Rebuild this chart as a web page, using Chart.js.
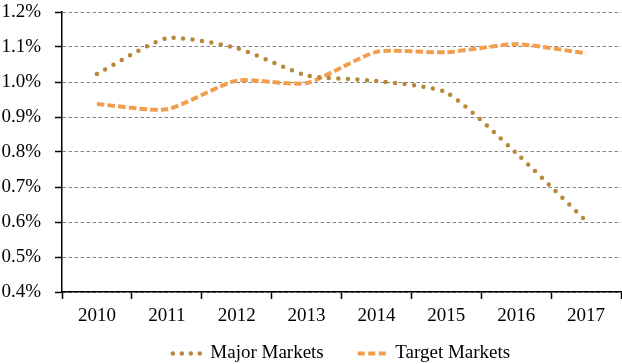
<!DOCTYPE html>
<html lang="en">
<head>
  <meta charset="UTF-8">
  <title>Major vs Target Markets</title>
  <script src="https://cdn.jsdelivr.net/npm/chart.js"></script>
  <style>
    body {
      margin: 0;
      padding: 0;
      background-color: #fff;
    }
    .chart-box {
      width: 622px;
      height: 364px;
    }
  </style>
</head>
<body>
  <div class="chart-box">
    <canvas id="marketsChart"></canvas>
  </div>

  <script>
    // Data (values in %)
    const years = ['2010', '2011', '2012', '2013', '2014', '2015', '2016', '2017'];
    const majorMarkets = [1.023, 1.125, 1.097, 1.019, 1.003, 0.970, 0.797, 0.603];
    const targetMarkets = [0.937, 0.922, 1.004, 0.997, 1.086, 1.085, 1.108, 1.082];

    const serif = "'Liberation Serif', 'Times New Roman', serif";

    // x axis is squeezed so the legend sits close; let its labels draw past its box
    const unclipXLabels = {
      id: 'unclipXLabels',
      afterLayout(chart) {
        chart.scales.x.bottom = chart.height;
      }
    };

    new Chart(document.getElementById('marketsChart').getContext('2d'), {
      type: 'line',
      data: {
        labels: years,
        datasets: [
          {
            label: 'Major Markets',
            data: majorMarkets,
            borderColor: '#b8883a',
            backgroundColor: '#b8883a',
            borderWidth: 4.5,
            borderDash: [0, 9.5],
            borderCapStyle: 'round',
            tension: 0.2,
            pointRadius: 0,
            fill: false
          },
          {
            label: 'Target Markets',
            data: targetMarkets,
            borderColor: '#f29e4c',
            backgroundColor: '#f29e4c',
            borderWidth: 4,
            borderDash: [7.5, 3.2],
            borderCapStyle: 'butt',
            tension: 0.2,
            pointRadius: 0,
            fill: false
          }
        ]
      },
      options: {
        responsive: true,
        maintainAspectRatio: false,
        animation: false,
        layout: { padding: { top: 12, right: 1, left: 0, bottom: 0 } },
        plugins: {
          legend: {
            position: 'bottom',
            fullSize: false,
            maxHeight: 54,
            labels: {
              usePointStyle: true,
              pointStyle: 'line',
              pointStyleWidth: 28,
              padding: 34,
              color: '#000',
              font: { family: serif, size: 19 },
              generateLabels: (chart) => chart.data.datasets.map((ds, i) => ({
                text: ds.label,
                datasetIndex: i,
                fillStyle: ds.borderColor,
                strokeStyle: ds.borderColor,
                lineWidth: ds.borderWidth,
                lineDash: i === 0 ? [0, 9] : [7, 3.5],
                lineCap: ds.borderCapStyle,
                pointStyle: 'line',
                fontColor: '#000',
                hidden: false
              }))
            }
          },
          tooltip: { enabled: false }
        },
        scales: {
          x: {
            offset: true,
            afterFit: (scale) => { scale.height = 18; },
            grid: {
              offset: true,
              drawOnChartArea: false,
              drawTicks: true,
              tickLength: 7,
              tickColor: '#000',
              tickWidth: 1.5
            },
            border: { color: '#000', width: 1.5 },
            ticks: {
              color: '#000',
              padding: 6,
              font: { family: serif, size: 19 }
            }
          },
          y: {
            min: 0.4,
            max: 1.2,
            afterFit: (scale) => {
              scale.width = 62;
              scale.paddingTop = 0;
              scale.paddingBottom = 0;
            },
            grid: {
              color: '#858585',
              lineWidth: 1,
              tickLength: 7,
              tickColor: '#000',
              tickWidth: 1.5,
              tickBorderDash: []
            },
            border: { color: '#000', width: 1.5, dash: [3.5, 2.5] },
            ticks: {
              stepSize: 0.1,
              color: '#000',
              padding: 14,
              font: { family: serif, size: 19 },
              callback: (v) => v.toFixed(1) + '%'
            }
          }
        }
      },
      plugins: [unclipXLabels]
    });
  </script>
</body>
</html>
